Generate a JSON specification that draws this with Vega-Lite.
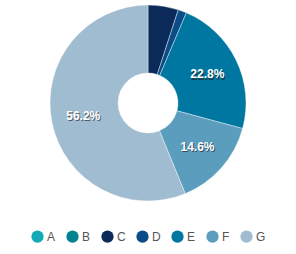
{
  "$schema": "https://vega.github.io/schema/vega-lite/v6.json",
  "width": 296,
  "height": 206,
  "padding": 0,
  "autosize": {"type": "pad"},
  "background": "#ffffff",
  "config": {"view": {"stroke": null}, "legend": {"layout": {"bottom": {"anchor": "middle"}}}},
  "data": {
    "values": [
      {"cat": "A", "pct": 0, "ord": 1},
      {"cat": "B", "pct": 0, "ord": 2},
      {"cat": "C", "pct": 5.0, "ord": 3},
      {"cat": "D", "pct": 1.4, "ord": 4},
      {"cat": "E", "pct": 22.8, "ord": 5},
      {"cat": "F", "pct": 14.6, "ord": 6},
      {"cat": "G", "pct": 56.2, "ord": 7}
    ]
  },
  "transform": [{"calculate": "datum.pct > 10 ? format(datum.pct, '.1f') + '%' : ''", "as": "lbl"}],
  "encoding": {
    "theta": {"field": "pct", "type": "quantitative", "stack": true},
    "order": {"field": "ord", "type": "quantitative"}
  },
  "layer": [
    {
      "mark": {"type": "arc", "outerRadius": 98, "innerRadius": 30, "stroke": "#ffffff", "strokeWidth": 0.4},
      "encoding": {
        "color": {
          "field": "cat",
          "type": "nominal",
          "scale": {
            "domain": ["A", "B", "C", "D", "E", "F", "G"],
            "range": ["#11aab5", "#00838f", "#0b2a5a", "#0b4c88", "#0077a0", "#5b9dbd", "#a0bcd0"]
          },
          "legend": {
            "orient": "bottom",
            "direction": "horizontal",
            "title": null,
            "symbolType": "circle",
            "symbolSize": 150,
            "symbolStrokeWidth": 0,
            "labelFontSize": 12,
            "labelFont": "Liberation Sans",
            "labelColor": "#555555",
            "labelOffset": 3,
            "columnPadding": 10,
            "offset": 24
          }
        }
      }
    },
    {
      "mark": {"type": "text", "radius": 66, "dx": 1, "dy": 1.5, "fontSize": 12, "fontWeight": "bold", "font": "Liberation Sans", "color": "#1a1a1a", "opacity": 0.6},
      "encoding": {"text": {"field": "lbl", "type": "nominal"}, "detail": {"field": "cat"}}
    },
    {
      "mark": {"type": "text", "radius": 66, "fontSize": 12, "fontWeight": "bold", "font": "Liberation Sans", "color": "#ffffff"},
      "encoding": {"text": {"field": "lbl", "type": "nominal"}, "detail": {"field": "cat"}}
    }
  ]
}
